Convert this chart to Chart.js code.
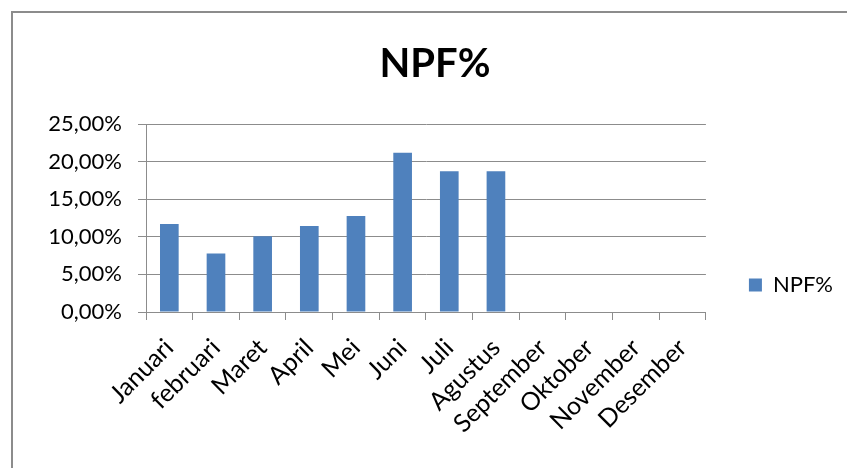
<!DOCTYPE html>
<html>
<head>
<meta charset="utf-8">
<script src="https://cdn.jsdelivr.net/npm/chart.js@4"></script>
<style>
  html, body { margin: 0; padding: 0; background: #fff; }
  #wrap { position: relative; width: 847px; height: 468px; overflow: hidden; }
  #frame {
    position: absolute; left: 11px; top: 11px; width: 900px; height: 500px;
    border-left: 2px solid #8c8c8c; border-top: 2px solid #8c8c8c;
  }
  canvas { position: absolute; left: 0; top: 0; }
</style>
</head>
<body>
<div id="wrap">
  <div id="frame"></div>
  <canvas id="grafikNpf" width="847" height="468"></canvas>
</div>
<script>
// data NPF per bulan (dalam persen)
const bulan = ['Januari', 'februari', 'Maret', 'April', 'Mei', 'Juni', 'Juli',
  'Agustus', 'September', 'Oktober', 'November', 'Desember'];
const npf = [11.71, 7.79, 10.08, 11.44, 12.76, 21.17, 18.71, 18.71, null, null, null, null];
const tickY = [0, 5, 10, 15, 20, 25];

const abu = '#8c8c8c';
const huruf = 'Lato, "Open Sans", sans-serif';

const ctx = document.getElementById('grafikNpf');
new Chart(ctx.getContext('2d'), {
  type: 'bar',
  data: {
    labels: bulan,
    datasets: [{
      label: 'NPF%',
      data: npf,
      backgroundColor: '#4f81bd',
      barPercentage: 0.4,
      categoryPercentage: 1
    }]
  },
  options: {
    responsive: false,
    animation: false,
    layout: { padding: { left: 27, right: 4, top: 0, bottom: 0 } },
    plugins: {
      title: {
        display: true,
        text: 'NPF%',
        color: '#000',
        font: { family: huruf, size: 40, weight: 'bold' },
        padding: { top: 40, bottom: 36 }
      },
      legend: {
        position: 'right',
        align: 'center',
        // judul kosong cuma buat dorong legenda ke bawah
        title: { display: true, text: ' ', font: { size: 20 }, padding: { top: 0, bottom: 78 } },
        labels: {
          color: '#000',
          font: { family: huruf, size: 22 },
          boxWidth: 13,
          boxHeight: 13,
          padding: 43
        }
      },
      tooltip: { enabled: false }
    },
    scales: {
      x: {
        grid: {
          offset: true,
          drawOnChartArea: false,
          drawTicks: true,
          tickLength: 8,
          color: abu
        },
        border: { color: abu, width: 1 },
        ticks: {
          color: '#000',
          font: { family: huruf, size: 25 },
          minRotation: 45,
          maxRotation: 45,
          autoSkip: false,
          padding: 13
        },
        afterFit: (s) => { s.height = 156; }
      },
      y: {
        min: 0,
        max: 25,
        afterBuildTicks: (s) => { s.ticks = tickY.map(v => ({ value: v })); },
        grid: { color: abu, tickLength: 8 },
        border: { color: abu, width: 1 },
        ticks: {
          color: '#000',
          font: { family: huruf, size: 22 },
          padding: 16,
          callback: (v) => v.toFixed(2).replace('.', ',') + '%'
        },
        afterFit: (s) => { s.width = 119; }
      }
    }
  }
});
</script>
</body>
</html>
